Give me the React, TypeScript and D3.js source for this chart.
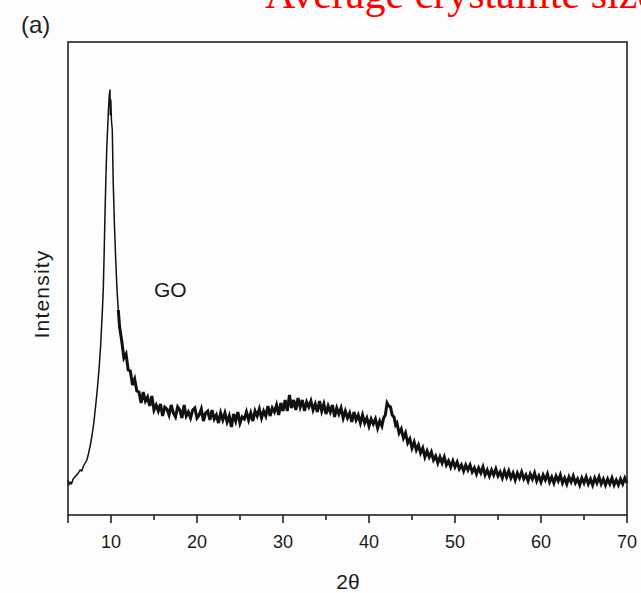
import React from "react";
import * as d3 from "d3";

// [2θ, intensity]
const risingEdge: [number, number][] = [
  [5.0, 35], [5.1, 30], [5.25, 33], [5.4, 31], [5.6, 36], [5.8, 38], [6.0, 40], [6.2, 42],
  [6.4, 45], [6.6, 44], [6.8, 49], [7.0, 52], [7.2, 55], [7.4, 62], [7.6, 70], [7.8, 80],
  [8.0, 92], [8.2, 108], [8.4, 125], [8.6, 145], [8.8, 170], [9.0, 205], [9.1, 225],
  [9.2, 260], [9.3, 300], [9.4, 335], [9.5, 365], [9.6, 385], [9.7, 405], [9.8, 420],
  [9.88, 425], [9.93, 400], [9.98, 415], [10.05, 395], [10.15, 385], [10.25, 335],
  [10.4, 290], [10.55, 255], [10.7, 225], [10.85, 205], [11.0, 188],
];

const amorphousHump: [number, number][] = [
  [11.25, 174], [11.5, 157], [11.75, 161], [12.0, 145], [12.25, 144], [12.5, 130], [12.75, 136],
  [13.0, 124], [13.25, 123], [13.5, 112], [13.75, 123], [14.0, 114], [14.25, 118], [14.5, 109],
  [14.75, 119], [15.0, 105], [15.25, 110], [15.5, 104], [15.75, 111], [16.0, 99], [16.25, 108],
  [16.5, 106], [16.75, 100], [17.0, 110], [17.25, 102], [17.5, 98], [17.75, 108], [18.0, 105],
  [18.25, 97], [18.5, 110], [18.75, 99], [19.0, 103], [19.25, 97], [19.5, 105], [19.75, 107],
  [20.0, 97], [20.25, 100], [20.5, 106], [20.75, 94], [21.0, 102], [21.25, 104], [21.5, 95],
  [21.75, 105], [22.0, 96], [22.25, 100], [22.5, 92], [22.75, 102], [23.0, 95], [23.25, 102],
  [23.5, 93], [23.75, 99], [24.0, 88], [24.25, 101], [24.5, 94], [24.75, 103], [25.0, 92],
  [25.25, 98], [25.5, 96], [25.75, 103], [26.0, 95], [26.25, 102], [26.5, 94], [26.75, 104],
  [27.0, 99], [27.25, 106], [27.5, 97], [27.75, 104], [28.0, 99], [28.25, 109], [28.5, 99],
  [28.75, 107], [29.0, 103], [29.25, 110], [29.5, 100], [29.75, 112], [30.0, 104], [30.25, 115],
  [30.5, 104], [30.75, 120], [31.0, 107], [31.25, 115], [31.5, 105], [31.75, 117], [32.0, 108],
  [32.25, 115], [32.5, 104], [32.75, 113], [33.0, 108], [33.25, 114], [33.5, 105], [33.75, 111],
  [34.0, 103], [34.25, 114], [34.5, 104], [34.75, 111], [35.0, 101], [35.25, 109], [35.5, 103],
  [35.75, 110], [36.0, 98], [36.25, 107], [36.5, 101], [36.75, 107], [37.0, 97], [37.25, 104],
  [37.5, 97], [37.75, 102], [38.0, 93], [38.25, 103], [38.5, 95], [38.75, 100], [39.0, 92],
  [39.25, 100], [39.5, 92], [39.75, 97], [40.0, 89], [40.25, 96], [40.5, 91], [40.75, 96],
  [41.0, 87], [41.25, 94], [41.5, 89],
];

const peak42: [number, number][] = [
  [41.7, 97], [41.9, 100], [42.1, 112], [42.3, 109], [42.5, 108], [42.7, 100], [42.9, 98],
  [43.1, 90],
];

const tailDecay: [number, number][] = [
  [43.25, 92], [43.5, 82], [43.75, 86], [44.0, 77], [44.25, 82], [44.5, 72], [44.75, 76],
  [45.0, 67], [45.25, 73], [45.5, 65], [45.75, 70], [46.0, 62], [46.25, 67], [46.5, 58],
  [46.75, 64], [47.0, 58], [47.25, 63], [47.5, 55], [47.75, 59], [48.0, 52], [48.25, 58],
  [48.5, 52], [48.75, 58], [49.0, 50], [49.25, 54], [49.5, 48], [49.75, 54], [50.0, 48],
  [50.25, 53], [50.5, 46], [50.75, 50], [51.0, 44], [51.25, 50], [51.5, 45], [51.75, 50],
  [52.0, 43], [52.25, 47], [52.5, 41], [52.75, 47], [53.0, 42], [53.25, 48], [53.5, 40],
  [53.75, 45], [54.0, 39], [54.25, 45], [54.5, 40], [54.75, 46], [55.0, 39], [55.25, 43],
  [55.5, 37], [55.75, 44], [56.0, 38], [56.25, 44], [56.5, 37], [56.75, 42], [57.0, 35],
  [57.25, 42], [57.5, 37], [57.75, 43], [58.0, 36], [58.25, 40], [58.5, 34], [58.75, 41],
  [59.0, 36], [59.25, 42], [59.5, 34], [59.75, 39], [60.0, 33], [60.25, 40], [60.5, 35],
  [60.75, 41], [61.0, 33], [61.25, 38], [61.5, 32], [61.75, 39], [62.0, 34], [62.25, 40],
  [62.5, 32], [62.75, 37], [63.0, 31], [63.25, 38], [63.5, 33], [63.75, 39], [64.0, 32],
  [64.25, 36], [64.5, 30], [64.75, 37], [65.0, 32], [65.25, 38], [65.5, 31], [65.75, 36],
  [66.0, 30], [66.25, 37], [66.5, 32], [66.75, 38], [67.0, 31], [67.25, 36], [67.5, 30],
  [67.75, 36], [68.0, 31], [68.25, 37], [68.5, 30], [68.75, 35], [69.0, 30], [69.25, 36],
  [69.5, 31], [69.75, 37], [70.0, 32],
];

const majorTicks = [5, 10, 20, 30, 40, 50, 60, 70];
const minorTicks = [15, 25, 35, 45, 55, 65];
const tickLabels = ["10", "20", "30", "40", "50", "60", "70"];

export default function App() {
  const W = 641, H = 593;
  const left = 68, right = 627, top = 42, bottom = 515;
  const x = d3.scaleLinear().domain([5, 70]).range([left, right]);
  const y = d3.scaleLinear().domain([0, 473]).range([bottom, top]);
  const line = d3.line<[number, number]>().x(d => x(d[0])).y(d => y(d[1]));
  const noisy = [...amorphousHump, ...peak42, ...tailDecay];
  const font = "'Liberation Sans', Arial, sans-serif";

  return (
    <svg width={W} height={H} style={{ position: "absolute", left: 0, top: 0, background: "#fdfdfd" }}>
      <text x={265} y={8} fontFamily="'Liberation Serif', 'Times New Roman', serif" fontSize={42} fill="#ff0000">
        Average crystallite size
      </text>
      <text x={21} y={33} fontFamily={font} fontSize={24} fill="#222">(a)</text>

      <path d={line(risingEdge) || ""} fill="none" stroke="#111" strokeWidth={1.5} strokeLinejoin="round" />
      <path d={line([risingEdge[risingEdge.length - 2], risingEdge[risingEdge.length - 1], ...noisy]) || ""}
        fill="none" stroke="#111" strokeWidth={3} strokeLinejoin="miter" />

      <rect x={left} y={top} width={right - left} height={bottom - top} fill="none" stroke="#222" strokeWidth={1.6} />

      {majorTicks.map(t => (
        <line key={"M" + t} x1={x(t)} x2={x(t)} y1={bottom} y2={bottom + 8} stroke="#222" strokeWidth={1.6} />
      ))}
      {minorTicks.map(t => (
        <line key={"m" + t} x1={x(t)} x2={x(t)} y1={bottom} y2={bottom + 5} stroke="#222" strokeWidth={1.6} />
      ))}
      {tickLabels.map(l => (
        <text key={l} x={x(+l)} y={548} textAnchor="middle" fontFamily={font} fontSize={18} fill="#1a1a1a">{l}</text>
      ))}

      <text x={348} y={589} textAnchor="middle" fontFamily={font} fontSize={21} fill="#1a1a1a">2θ</text>
      <text transform="translate(49,294) rotate(-90)" textAnchor="middle" fontFamily={font} fontSize={21}
        letterSpacing={1.2} fill="#1a1a1a">
        Intensity
      </text>
      <text x={154} y={297} fontFamily={font} fontSize={21} fill="#1a1a1a">GO</text>
    </svg>
  );
}
